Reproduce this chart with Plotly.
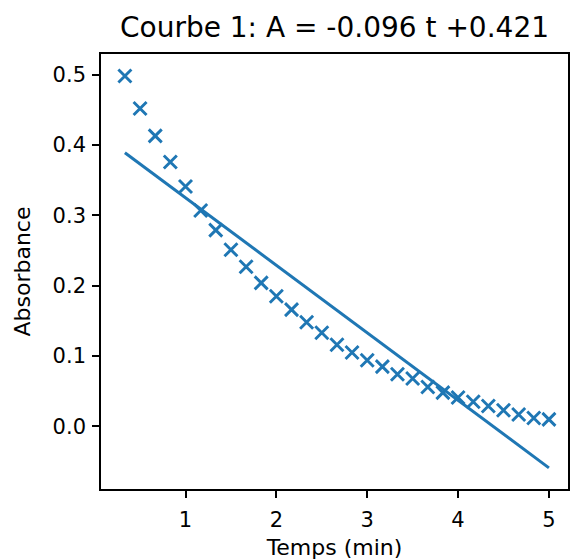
import plotly.graph_objects as go

# Data
temps_min = [0.333, 0.5, 0.667, 0.833, 1.0, 1.167, 1.333, 1.5, 1.667, 1.833,
             2.0, 2.167, 2.333, 2.5, 2.667, 2.833, 3.0, 3.167, 3.333, 3.5,
             3.667, 3.833, 4.0, 4.167, 4.333, 4.5, 4.667, 4.833, 5.0]
absorbance = [0.498, 0.452, 0.413, 0.376, 0.341, 0.307, 0.279, 0.251, 0.227, 0.204,
              0.185, 0.166, 0.148, 0.133, 0.116, 0.105, 0.094, 0.085, 0.074, 0.068,
              0.056, 0.048, 0.041, 0.035, 0.029, 0.023, 0.017, 0.012, 0.010]

fit_slope = -0.096
fit_intercept = 0.421
fit_t = [temps_min[0], temps_min[-1]]
fit_A = [fit_slope * t + fit_intercept for t in fit_t]

x_ticks = [1, 2, 3, 4, 5]
y_ticks = [0.0, 0.1, 0.2, 0.3, 0.4, 0.5]

title_text = "Courbe 1: A = -0.096 t +0.421"

BLUE = "#1f77b4"
FONT = "DejaVu Sans"

fig = go.Figure()
fig.add_trace(go.Scatter(
    x=temps_min, y=absorbance, mode="markers",
    marker=dict(symbol="x-thin", size=13, color=BLUE,
                line=dict(color=BLUE, width=2.9)),
    showlegend=False, hoverinfo="skip",
))
fig.add_trace(go.Scatter(
    x=fit_t, y=fit_A, mode="lines",
    line=dict(color=BLUE, width=3),
    showlegend=False, hoverinfo="skip",
))

axis_common = dict(
    showgrid=False, zeroline=False, automargin=False,
    showline=True, linecolor="black", linewidth=1.6, mirror=True,
    ticks="outside", ticklen=7, tickwidth=1.6, tickcolor="black",
    tickfont=dict(family=FONT, size=21, color="black"),
)

fig.update_layout(
    width=572, height=560,
    margin=dict(l=101, r=4, t=54, b=71, pad=0),
    paper_bgcolor="white", plot_bgcolor="white",
    font=dict(family=FONT, color="black"),
    title=dict(text=title_text, x=0.5, xref="paper",
               xanchor="center", y=1 - 27 / 560, yref="container",
               yanchor="middle",
               font=dict(family=FONT, size=28, color="black")),
    xaxis=dict(range=[0.07, 5.21], tickvals=x_ticks,
               ticktext=[str(v) for v in x_ticks],
               title=dict(text="Temps (min)", standoff=15,
                          font=dict(family=FONT, size=22, color="black")),
               ticklabelstandoff=4,
               **axis_common),
    yaxis=dict(range=[-0.089, 0.5294], tickvals=y_ticks,
               ticktext=[f"{v:.1f}" for v in y_ticks],
               title=dict(text="Absorbance", standoff=16,
                          font=dict(family=FONT, size=22, color="black")),
               ticklabelstandoff=2,
               **axis_common),
)

fig.write_html(
    "out.html",
    config={"displayModeBar": False},
    post_script="document.body.style.margin='0px';"
                "document.body.style.overflow='hidden';",
)
